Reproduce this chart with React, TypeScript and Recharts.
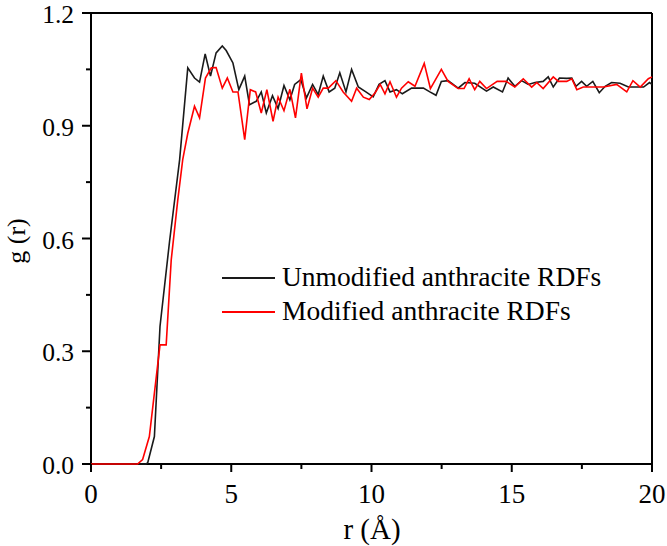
import React from 'react';
import { LineChart, Line, XAxis, YAxis, ReferenceLine } from 'recharts';

const seriesNames = ['Unmodified anthracite RDFs', 'Modified anthracite RDFs'];

const rUnmod = [0, 1.95, 2.02, 2.26, 2.46, 2.8, 3.16, 3.45, 3.69, 3.87, 4.07, 4.26, 4.46, 4.68, 4.82, 5.06, 5.27, 5.48, 5.65, 5.89, 6.07, 6.25, 6.47, 6.67, 6.88, 7.09, 7.26, 7.48, 7.68, 7.9, 8.1, 8.28, 8.49, 8.69, 8.87, 9.09, 9.29, 9.53, 9.8, 10.06, 10.27, 10.48, 10.66, 10.89, 11.1, 11.43, 11.85, 12.08, 12.3, 12.49, 12.73, 13.09, 13.33, 13.68, 14.1, 14.34, 14.67, 14.87, 15.11, 15.35, 15.59, 15.83, 16.12, 16.3, 16.48, 16.7, 16.96, 17.14, 17.29, 17.49, 17.67, 17.89, 18.12, 18.33, 18.56, 18.86, 19.16, 19.46, 19.7, 19.91, 20];
const gUnmod = [0, 0, 0.003, 0.073, 0.366, 0.592, 0.81, 1.054, 1.027, 1.016, 1.091, 1.032, 1.094, 1.112, 1.1, 1.067, 0.996, 1.032, 0.956, 0.965, 0.99, 0.934, 0.98, 0.946, 1.007, 0.969, 1.01, 1.023, 0.974, 1.01, 0.983, 1.032, 0.99, 1.0, 1.041, 0.99, 1.05, 1.003, 0.99, 0.977, 1.01, 1.02, 0.99, 0.996, 0.985, 1.0, 1.0, 0.99, 0.981, 1.018, 1.02, 1.0, 1.015, 1.013, 0.992, 1.003, 0.99, 1.027, 1.005, 1.02, 1.01, 1.015, 1.018, 1.03, 1.003, 1.027, 1.026, 1.027, 1.005, 1.018, 1.005, 1.018, 0.988, 1.005, 1.015, 1.013, 1.003, 1.003, 1.003, 1.015, 1.01];

const rMod = [0, 1.66, 1.84, 2.08, 2.46, 2.68, 2.86, 3.09, 3.27, 3.45, 3.69, 3.87, 4.08, 4.29, 4.46, 4.68, 4.86, 5.06, 5.24, 5.48, 5.68, 5.87, 6.07, 6.27, 6.49, 6.67, 6.88, 7.09, 7.29, 7.5, 7.7, 7.9, 8.1, 8.28, 8.46, 8.73, 8.99, 9.29, 9.47, 9.71, 9.92, 10.13, 10.31, 10.48, 10.66, 10.89, 11.07, 11.31, 11.55, 11.88, 12.1, 12.49, 12.73, 13.09, 13.3, 13.48, 13.68, 13.86, 14.1, 14.48, 14.8, 15.11, 15.41, 15.71, 15.89, 16.12, 16.48, 16.66, 16.96, 17.14, 17.32, 17.55, 18.27, 18.74, 19.1, 19.32, 19.58, 19.87, 20];
const gMod = [0, 0, 0.012, 0.073, 0.317, 0.317, 0.543, 0.7, 0.81, 0.88, 0.952, 0.921, 1.027, 1.054, 1.055, 1.0, 1.027, 0.99, 0.99, 0.863, 0.996, 0.99, 0.934, 0.996, 0.912, 0.976, 0.94, 0.997, 0.921, 1.04, 0.945, 1.0, 0.976, 1.0, 1.0, 1.02, 0.99, 0.965, 1.0, 0.976, 0.97, 0.988, 1.01, 0.985, 1.017, 0.976, 1.0, 1.017, 1.005, 1.066, 0.999, 1.05, 1.018, 0.999, 0.999, 1.025, 0.996, 1.018, 0.999, 1.018, 1.018, 1.003, 1.025, 1.003, 1.015, 0.999, 1.03, 1.018, 1.018, 1.025, 0.996, 1.003, 1.003, 1.01, 0.99, 1.02, 1.003, 1.025, 1.03];

const xTicks = [0, 2.5, 5, 7.5, 10, 12.5, 15, 17.5, 20];
const yTicks = [0, 0.15, 0.3, 0.45, 0.6, 0.75, 0.9, 1.05, 1.2];

const unmodData = rUnmod.map((r, i) => ({ r, g: gUnmod[i] }));
const modData = rMod.map((r, i) => ({ r, g: gMod[i] }));

const FONT = "'Liberation Serif', 'DejaVu Serif', serif";
const tickTxt = { fontFamily: FONT, fontSize: 27, fill: '#000' } as React.CSSProperties;
const yTickTxt = { fontFamily: FONT, fontSize: 25.5, fill: '#000' } as React.CSSProperties;
const legTxt = { fontFamily: FONT, fontSize: 27.5, fill: '#000' } as React.CSSProperties;
const titleTxt = { fontFamily: FONT, fontSize: 29, fill: '#000' } as React.CSSProperties;

const XTick = (props: any) => {
  const { x, y, payload } = props;
  const v = payload.value as number;
  const major = Math.abs(v % 5) < 1e-6;
  return (
    <g>
      <line x1={x} y1={y} x2={x} y2={y + (major ? 8 : 5)} stroke="#000" strokeWidth={2} />
      {major && (
        <text x={x} y={y + 39} textAnchor="middle" style={tickTxt}>
          {v}
        </text>
      )}
    </g>
  );
};

const YTick = (props: any) => {
  const { x, y, payload } = props;
  const v = payload.value as number;
  const major = Math.round(v / 0.15) % 2 === 0;
  return (
    <g>
      <line x1={x} y1={y} x2={x - (major ? 9 : 5)} y2={y} stroke="#000" strokeWidth={2} />
      {major && (
        <text x={x - 17} y={y + 10} textAnchor="end" style={yTickTxt}>
          {v.toFixed(1)}
        </text>
      )}
    </g>
  );
};

export default function App() {
  return (
    <div style={{ position: 'absolute', left: 0, top: 0, background: '#fff' }}>
      <LineChart width={667} height={546} margin={{ top: 13, right: 15, left: 0, bottom: 0 }}>
        <XAxis
          dataKey="r"
          type="number"
          domain={[0, 20]}
          ticks={xTicks}
          tickLine={false}
          tickSize={0}
          tickMargin={0}
          tick={<XTick />}
          height={82}
          axisLine={{ stroke: '#000', strokeWidth: 2 }}
          interval={0}
        />
        <YAxis
          type="number"
          domain={[0, 1.2]}
          ticks={yTicks}
          tickLine={false}
          tickSize={0}
          tickMargin={0}
          tick={<YTick />}
          width={91}
          axisLine={{ stroke: '#000', strokeWidth: 2 }}
          interval={0}
        />
        <ReferenceLine y={1.2} stroke="#000" strokeWidth={2} />
        <ReferenceLine x={20} stroke="#000" strokeWidth={2} />
        <Line data={unmodData} dataKey="g" name={seriesNames[0]} stroke="#1a1a1a" strokeWidth={1.6} dot={false} isAnimationActive={false} zIndex={900} />
        <Line data={modData} dataKey="g" name={seriesNames[1]} stroke="#ff0000" strokeWidth={1.6} dot={false} isAnimationActive={false} zIndex={910} />
        <text x={372} y={539} textAnchor="middle" style={titleTxt}>r (Å)</text>
        <text x={0} y={0} transform="translate(25,241) rotate(-90)" textAnchor="middle" style={{ ...titleTxt, fontSize: 26 }}>g (r)</text>
        <line x1={222} y1={278} x2={275} y2={278} stroke="#1a1a1a" strokeWidth={2} />
        <text x={282} y={286} style={legTxt}>{seriesNames[0]}</text>
        <line x1={222} y1={312} x2={275} y2={312} stroke="#ff0000" strokeWidth={2} />
        <text x={282} y={320} style={legTxt}>{seriesNames[1]}</text>
      </LineChart>
    </div>
  );
}
